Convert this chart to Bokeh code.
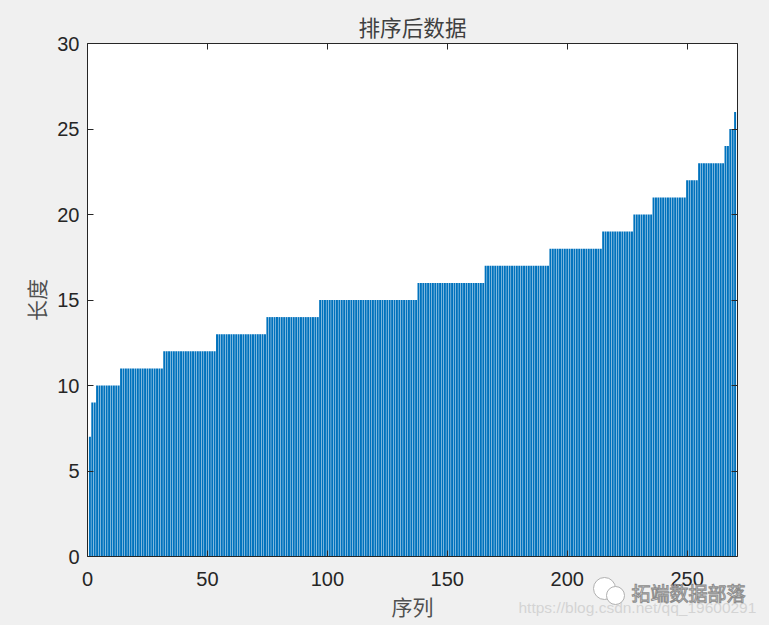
from bokeh.plotting import figure
from bokeh.models import Range1d, FixedTicker, LinearAxis, Title
from bokeh.core.properties import value
from bokeh.embed import file_html
from bokeh.resources import INLINE

title_text = "排序后数据"
x_label = "序列"
y_label = "长度"
levels = [7, 9, 10, 11, 12, 13, 14, 15, 16, 17, 18, 19, 20, 21, 22, 23, 24, 25]
counts = [1, 2, 10, 18, 22, 21, 22, 41, 28, 27, 22, 13, 8, 14, 5, 11, 2, 2]
last_value = 26
x_ticks = [0, 50, 100, 150, 200, 250]
y_ticks = [0, 5, 10, 15, 20, 25, 30]
watermark = "拓端数据部落"
url_mark = "https://blog.csdn.net/qq_19600291"

values = []
for lv, c in zip(levels, counts):
    values += [lv] * c
values.append(last_value)
xs = list(range(1, len(values) + 1))

BG = "#f0f0f0"
INK = "#262626"
CJK = "Noto Sans CJK SC"

p = figure(width=769, height=625, output_backend="svg", toolbar_location=None,
           x_range=Range1d(0, 271), y_range=Range1d(0, 30),
           frame_width=650, frame_height=513,
           min_border_left=87, min_border_top=43, min_border_bottom=69, min_border_right=32,
           x_axis_location=None, y_axis_location=None)
p.background_fill_color = "white"
p.border_fill_color = BG
p.outline_line_color = None
p.grid.visible = False
p.vbar(x=xs, top=values, width=0.82, bottom=0, fill_color="#0072BD", line_color=None)


def make_axis(ticks, labelled, label=None, tick_gap=6, label_gap=2):
    ax = LinearAxis(ticker=FixedTicker(ticks=ticks))
    ax.axis_line_color = INK
    ax.major_tick_line_color = INK
    ax.major_tick_in = 6
    ax.major_tick_out = 0
    ax.minor_tick_line_color = None
    ax.major_label_text_color = INK
    if labelled:
        ax.major_label_text_font = "Liberation Sans"
        ax.major_label_text_font_size = "20px"
        ax.major_label_standoff = tick_gap
        ax.axis_label = label
        ax.axis_label_text_font = CJK
        ax.axis_label_text_font_size = "21px"
        ax.axis_label_text_font_style = "normal"
        ax.axis_label_text_color = "#505050"
        ax.axis_label_standoff = label_gap
    else:
        ax.major_label_overrides = {t: "" for t in ticks}
        ax.major_label_standoff = 0
    return ax


p.add_layout(make_axis(x_ticks, True, x_label, tick_gap=15), "below")
p.add_layout(make_axis(y_ticks, True, y_label, tick_gap=8, label_gap=3), "left")
p.add_layout(make_axis(x_ticks, False), "above")
p.add_layout(make_axis(y_ticks, False), "right")

p.title = Title(text=title_text, align="center", text_font=CJK, text_font_size="21.6px",
                text_font_style="normal", text_color="#404040", standoff=4)

# Transparent overlay for the watermark, in page pixels
OX, OY, OW, OH = 509, 565, 260, 60
ov = figure(width=OW, height=OH, output_backend="svg", toolbar_location=None,
            x_range=Range1d(OX, OX + OW), y_range=Range1d(OY + OH, OY),
            min_border=0, x_axis_location=None, y_axis_location=None,
            styles={"position": "absolute", "left": f"{OX}px", "top": f"{OY}px"})
ov.background_fill_color = None
ov.border_fill_color = None
ov.outline_line_color = None
ov.grid.visible = False

ov.text(x=[518], y=[607], text=[url_mark], text_font=value("Liberation Sans"),
        text_font_size="15.5px", text_color="#d4d4d4", text_baseline="middle")
ov.scatter(x=[604], y=[588], size=22, marker="circle",
           fill_color="white", line_color="#b0b0b0", line_width=1)
ov.scatter(x=[615], y=[595], size=18, marker="circle",
           fill_color="white", line_color="#b0b0b0", line_width=1)
ov.text(x=[631], y=[592], text=[watermark], text_font=value(CJK),
        text_font_size="19px", text_color="#f8f8f8", text_baseline="middle",
        text_outline_color="#8c8c8c")

html = file_html([p, ov], INLINE)
html = html.replace("</head>", "<style>html,body{background:#f0f0f0}</style></head>", 1)
open("out.html", "w").write(html)
